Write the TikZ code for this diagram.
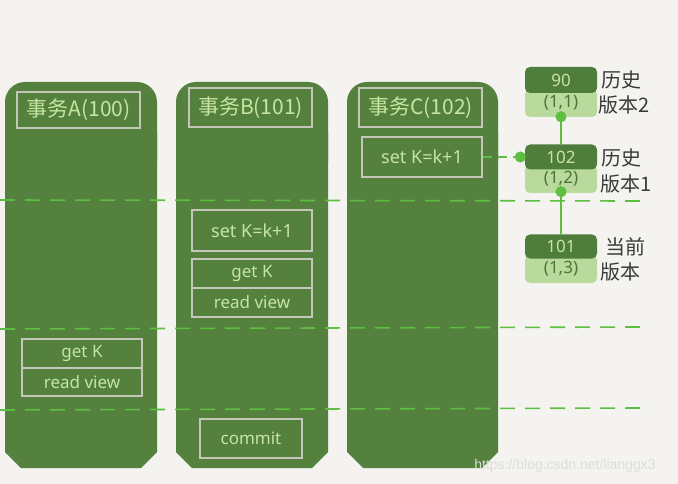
\documentclass[tikz,border=0pt]{standalone}
\usepackage{fontspec}
\setmainfont{Noto Sans}
\newfontfamily\cjk{Noto Sans CJK SC}
\newfontfamily\wmfont{Liberation Sans}
\usetikzlibrary{arrows.meta}
\definecolor{bgc}{HTML}{F4F3EF}
\definecolor{colg}{HTML}{55813F}
\definecolor{txtg}{HTML}{C6E5A0}
\definecolor{boxl}{HTML}{C4C6BA}
\definecolor{dashg}{HTML}{5EBE42}
\definecolor{vdark}{HTML}{4F7D3B}
\definecolor{vlight}{HTML}{B9DA9C}
\definecolor{vtext}{HTML}{4A7636}
\definecolor{lblc}{HTML}{3A3A3A}
\definecolor{wmc}{HTML}{DCDCDA}
\tikzset{
  opbox/.style={draw=boxl, line width=1.2pt, text=txtg, inner sep=0pt, font=\fontsize{17}{17}\selectfont},
  headbox/.style={opbox, minimum width=123pt, font=\cjk\fontsize{21}{21}\selectfont},
  vdarkbox/.style={fill=vdark, rounded corners=5pt, minimum width=72pt, text=txtg, inner sep=0pt, font=\fontsize{17}{17}\selectfont},
  vlightbox/.style={fill=vlight, rounded corners=5pt, minimum width=72pt, text=vtext, inner sep=0pt, font=\fontsize{17}{17}\selectfont},
  vlabel/.style={anchor=west, text=lblc, inner sep=0pt, font=\cjk\fontsize{20}{20}\selectfont},
  sepline/.style={draw=dashg, line width=1.6pt, dash pattern=on 15pt off 10pt},
  vlink/.style={draw=dashg, line width=1.4pt, -{Circle[length=11pt,width=11pt]}},
}
\newcommand{\txcolumn}[4]{%
  \fill[colg, rounded corners=20pt] (#1,#3) rectangle (#2,#3+100);
  \fill[colg] (#1,#3+50) -- (#2,#3+50) -- (#2,#4-16) -- (#2-16,#4) -- (#1+16,#4) -- (#1,#4-16) -- cycle;
}
\begin{document}
\begin{tikzpicture}[x=1pt,y=-1pt]
\fill[bgc] (0,0) rectangle (678,484);
\useasboundingbox (0,0) rectangle (678,484);

% columns
\txcolumn{5}{157}{82}{468}
\txcolumn{176}{328}{82}{468}
\txcolumn{347}{498}{82}{468}

% separator lines
\coordinate (s1a) at (0,200); \coordinate (s1b) at (640,201);
\coordinate (s2a) at (0,329); \coordinate (s2b) at (642,327);
\coordinate (s3a) at (0,410); \coordinate (s3b) at (642,408);
\draw[sepline] (s1a) -- (s1b);
\draw[sepline] (s2a) -- (s2b);
\draw[sepline] (s3a) -- (s3b);

% headers
\node[headbox, minimum height=36pt] (hA) at (78.5,110) {事务A(100)};
\node[headbox, minimum height=39pt] (hB) at (250.5,107.5) {事务B(101)};
\node[headbox, minimum height=39pt] (hC) at (420.5,107.5) {事务C(102)};

% operations
\node[opbox, minimum width=120pt, minimum height=40pt, font=\fontsize{18}{18}\selectfont] (cset) at (422,157) {set K=k+1};
\node[opbox, minimum width=120pt, minimum height=41pt, font=\fontsize{18}{18}\selectfont] (bset) at (252,230.5) {set K=k+1};
\node[opbox, minimum width=120pt, minimum height=29pt] (bget) at (252,273.5) {get K};
\node[opbox, minimum width=120pt, minimum height=29pt] (bread) at (252,302.5) {read view};
\node[opbox, minimum width=120pt, minimum height=29pt] (aget) at (82,353.5) {get K};
\node[opbox, minimum width=120pt, minimum height=28pt] (aread) at (82,382) {read view};
\node[opbox, minimum width=102pt, minimum height=39pt] (bcommit) at (251,438.5) {commit};

% versions
\node[vlightbox, minimum height=28pt] (v11) at (561,103) {(1,1)};
\node[vdarkbox, minimum height=26pt] (v90) at (561,80) {90};
\node[vlightbox, minimum height=28pt] (v12) at (561,179) {(1,2)};
\node[vdarkbox, minimum height=25pt] (v102) at (561,157) {102};
\node[vlightbox, minimum height=28pt] (v13) at (561,269) {(1,3)};
\node[vdarkbox, minimum height=24pt] (v101) at (561,246.5) {101};

\node[vlabel] (l1a) at (601,80) {历史};
\node[vlabel] (l1b) at (598,105) {版本2};
\node[vlabel] (l2a) at (601,158) {历史};
\node[vlabel] (l2b) at (600,184) {版本1};
\node[vlabel] (l3a) at (605,247) {当前};
\node[vlabel] (l3b) at (600,272) {版本};

% links
\draw[vlink] (v102.north) -- ([yshift=6pt]v11.south);
\draw[vlink] (v101.north) -- ([yshift=7pt]v12.south);
\draw[vlink, dash pattern=on 9pt off 6pt] (cset.east) -- ([xshift=1pt]v102.west);

% watermark
\node[text=wmc, font=\wmfont\fontsize{14}{14}\selectfont, inner sep=0pt] (wm) at (565,466) {https://blog.csdn.net/lianggx3};
\end{tikzpicture}
\end{document}
